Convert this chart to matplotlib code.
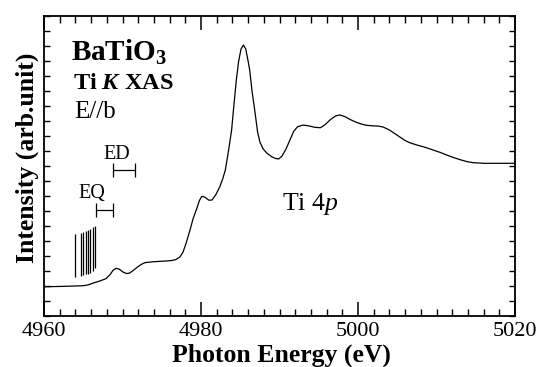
import matplotlib
matplotlib.use("Agg")
import matplotlib.pyplot as plt
from matplotlib.ticker import MultipleLocator

plt.rcParams['font.family'] = ['Liberation Serif', 'DejaVu Serif']
plt.rcParams['mathtext.fontset'] = 'custom'
plt.rcParams['mathtext.rm'] = 'Liberation Serif'
plt.rcParams['mathtext.it'] = 'Liberation Serif:italic'
plt.rcParams['mathtext.bf'] = 'Liberation Serif:bold'
plt.rcParams['mathtext.bfit'] = 'Liberation Serif:bold:italic'

# Spectrum (photon energy in eV, intensity arb. unit)
energy = [4960.0, 4962.0, 4964.0, 4965.0, 4965.6, 4966.3, 4967.2, 4967.9, 4968.4,
          4968.8, 4969.2, 4969.6, 4970.0, 4970.5, 4970.9, 4971.4, 4972.0, 4972.5,
          4972.9, 4974.0, 4975.0, 4975.6, 4976.3, 4976.8, 4977.3, 4977.7, 4978.1,
          4978.6, 4979.0, 4979.4, 4979.8, 4980.1, 4980.5, 4981.0, 4981.4, 4981.9,
          4982.4, 4982.8, 4983.1, 4983.5, 4983.9, 4984.2, 4984.5, 4984.8, 4985.1,
          4985.4, 4985.7, 4986.0, 4986.2, 4986.5, 4986.9, 4987.2, 4987.5, 4987.9,
          4988.4, 4989.0, 4989.5, 4989.9, 4990.3, 4990.8, 4991.3, 4991.8, 4992.3,
          4993.0, 4993.7, 4994.5, 4995.2, 4995.8, 4996.5, 4997.2, 4997.7, 4998.3,
          4999.0, 4999.7, 5000.3, 5001.0, 5001.8, 5002.6, 5003.2, 5004.0, 5005.0,
          5006.0, 5006.6, 5007.5, 5008.4, 5009.2, 5010.5, 5011.7, 5013.0, 5014.0,
          5014.7, 5016.0, 5020.0]
intensity = [1.95, 1.97, 2.0, 2.02, 2.07, 2.2, 2.35, 2.49, 2.75,
             3.05, 3.18, 3.12, 2.95, 2.83, 2.86, 3.05, 3.3, 3.47,
             3.56, 3.62, 3.65, 3.67, 3.7, 3.76, 3.93, 4.25, 4.85,
             5.73, 6.5, 7.07, 7.7, 7.98, 7.92, 7.72, 7.73, 8.1,
             8.62, 9.2, 9.73, 11.0, 12.4, 14.1, 15.73, 17.0, 17.8,
             18.07, 17.8, 17.0, 16.4, 15.0, 13.5, 12.3, 11.6, 11.15,
             10.85, 10.62, 10.5, 10.47, 10.65, 11.1, 11.7, 12.3, 12.62,
             12.73, 12.68, 12.58, 12.55, 12.75, 13.1, 13.35, 13.4, 13.3,
             13.1, 12.93, 12.82, 12.72, 12.68, 12.66, 12.6, 12.4, 12.05,
             11.7, 11.55, 11.4, 11.27, 11.13, 10.9, 10.65, 10.42, 10.28,
             10.22, 10.18, 10.18]

# Stick lines (transition positions)
stick_e = [4964.0, 4964.75, 4965.0, 4965.3, 4965.6, 4965.9, 4966.25, 4966.5]
stick_top = [5.47, 5.55, 5.63, 5.69, 5.73, 5.83, 5.91, 6.0]
stick_bot = [2.63, 2.70, 2.73, 2.78, 2.83, 2.89, 3.0, 3.17]

# Energy-range bars
bar_labels = ['ED', 'EQ']
bar_center = [4970.2, 4967.7]
bar_half = [1.4, 1.07]
bar_y = [9.73, 7.07]
bar_text_x = [4969.3, 4966.1]
bar_text_y = [10.45, 7.85]

xticks = [4960, 4980, 5000, 5020]

fig = plt.figure(figsize=(5.39, 3.67), dpi=100)
ax = fig.add_axes([44/539, 1-316/367, (515-44)/539, (316-16)/367])

ax.plot(energy, intensity, color='black', lw=0.9)
ax.vlines(stick_e, stick_bot, stick_top, color='black', lw=0.9)
for lab, c, h, y, tx, ty in zip(bar_labels, bar_center, bar_half, bar_y, bar_text_x, bar_text_y):
    ax.errorbar([c], [y], xerr=[h], fmt='none', ecolor='black', elinewidth=0.9,
                capsize=4.7, capthick=0.9)
    ax.text(tx, ty, lab, fontsize=14.5, ha='center', va='baseline')

ax.text(4963.5, 17.0, r'$\mathbf{BaTiO_3}$', fontsize=21, ha='left', va='baseline')
ax.text(4963.7, 15.15, r'$\mathbf{Ti}$ $\mathbfit{K}$ $\mathbf{XAS}$', fontsize=17.5,
        ha='left', va='baseline')
ax.text(4963.8, 13.2, 'E//b', fontsize=18, ha='left', va='baseline')
ax.text(4990.3, 7.07, r'Ti 4$\mathit{p}$', fontsize=18.5, ha='left', va='baseline')

ax.set_xlim(4960, 5020)
ax.set_ylim(0, 20)
ax.set_xticks(xticks)
ax.xaxis.set_minor_locator(MultipleLocator(2))
ax.yaxis.set_major_locator(MultipleLocator(1))
ax.set_yticklabels([])
ax.tick_params(axis='x', which='major', direction='in', top=True, length=10, width=1.1,
               labelsize=16, pad=4)
ax.tick_params(axis='x', which='minor', direction='in', top=True, length=5, width=1.0)
ax.tick_params(axis='y', which='major', direction='in', right=True, length=4, width=1.0,
               labelleft=False)
for s in ax.spines.values():
    s.set_linewidth(1.3)

fig.text(281.5/539, 1-361.7/367, 'Photon Energy (eV)', fontsize=18.5, fontweight='bold',
         ha='center', va='baseline')
fig.text(27.5/539, 1-158/367, 'Intensity (arb.unit)', fontsize=18.5, fontweight='bold',
         rotation=90, ha='center', va='center')

fig.savefig('out.png', dpi=100)
